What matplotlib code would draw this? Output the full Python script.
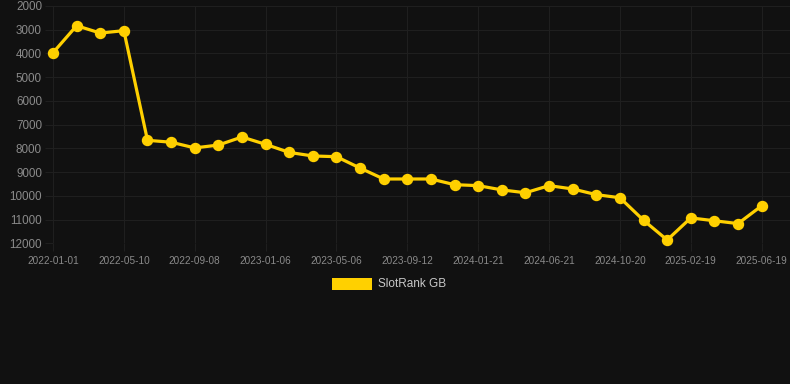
import matplotlib
matplotlib.use('Agg')
import matplotlib.pyplot as plt
from matplotlib.patches import Rectangle

# SlotRank GB position, one point every ~43 days (lower rank number = better)
tick_labels = ['2022-01-01', '2022-05-10', '2022-09-08', '2023-01-06', '2023-05-06',
               '2023-09-12', '2024-01-21', '2024-06-21', '2024-10-20', '2025-02-19',
               '2025-06-19']
rank = [3970, 2830, 3140, 3040, 7660, 7740, 7980, 7860, 7520, 7830,
        8170, 8320, 8350, 8830, 9290, 9290, 9290, 9530, 9570, 9750,
        9870, 9570, 9710, 9950, 10080, 11030, 11860, 10930, 11050, 11170,
        10420]
series_name = 'SlotRank GB'

bg = '#111111'
grid_c = '#1f1f1f'
txt_c = '#8a8a8a'
line_c = '#ffd000'

plt.rcParams['font.family'] = ['Liberation Sans', 'DejaVu Sans']

fig = plt.figure(figsize=(7.9, 3.84), dpi=100, facecolor=bg)
ax = fig.add_axes([53/790, 1-243.3/384, 1-53/790, (243.3-6)/384])
ax.set_facecolor(bg)

x = list(range(len(rank)))
ax.plot(x, rank, color=line_c, lw=2.3, marker='o', ms=7.2, mfc=line_c, mec=line_c,
        zorder=3, clip_on=False)

ax.set_ylim(12000, 2000)
ax.set_yticks(range(2000, 12001, 1000))
ax.set_xlim(0, 31.2)
ax.set_xticks(x[::3])
ax.set_xticklabels(tick_labels)

ax.grid(True, color=grid_c, lw=0.8)
for s in ax.spines.values():
    s.set_visible(False)
ax.tick_params(axis='y', colors=grid_c, labelcolor=txt_c, labelsize=8.4, length=6, width=0.8, pad=2)
ax.tick_params(axis='x', colors=grid_c, labelcolor=txt_c, labelsize=7.2, length=6, width=0.8, pad=3)

# legend
fig.patches.append(Rectangle((332/790, 1-290/384), 40/790, 12/384, transform=fig.transFigure,
                             facecolor=line_c, edgecolor='none'))
fig.text(378/790, 1-284/384, series_name, color='#c8c8c8', fontsize=8.5, va='center', ha='left')

fig.savefig('out.png', dpi=100, facecolor=bg)
